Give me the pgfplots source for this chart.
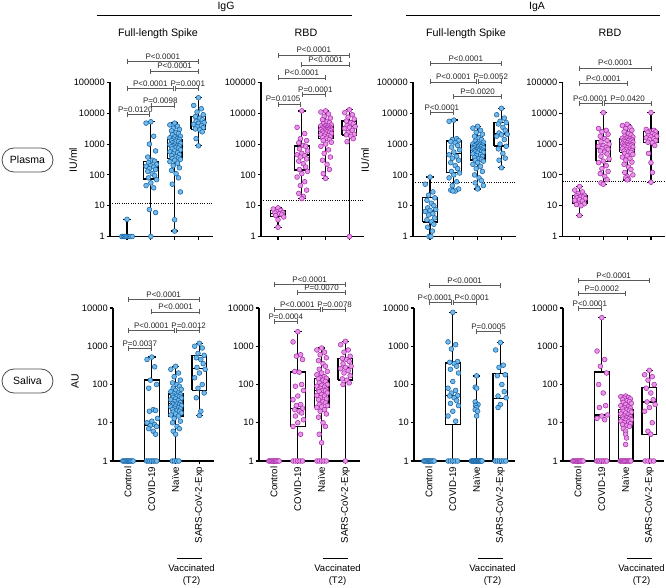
\documentclass[border=0pt]{standalone}
\usepackage{fontspec}
\setmainfont{Liberation Sans}
\usepackage{pgfplots}
\pgfplotsset{compat=1.18}
\definecolor{bfill}{RGB}{116,186,232}
\definecolor{bedge}{RGB}{22,100,168}
\definecolor{mfill}{RGB}{230,150,230}
\definecolor{medge}{RGB}{172,45,172}
\definecolor{brkc}{RGB}{90,90,90}
\pgfplotsset{
 /pgfplots/myaxbase/.style={scale only axis, axis x line*=bottom, axis y line*=left,
   axis line style={line width=1.4pt, black}, xtick={1,2,3,4},
   tick align=outside, major tick length=3.5pt, tick style={line width=1.1pt, black},
   yminorticks=false, clip=false,
   yticklabel style={font=\fontsize{9.3}{10}\selectfont, inner sep=1.5pt}},
 /pgfplots/mytoprow/.style={myaxbase, width=102.5pt, height=154pt, ymin=1, ymax=100000, xmin=0.285, xmax=4.59,
   ytick={1,10,100,1000,10000,100000}, yticklabels={1,10,100,1000,10000,100000}, xticklabels={}},
 /pgfplots/mybotrow/.style={myaxbase, width=101.4pt, height=153pt, ymin=1, ymax=10000, xmin=0.37, xmax=4.63,
   ytick={1,10,100,1000,10000}, yticklabels={1,10,100,1000,10000},
   xticklabels={Control,COVID-19,Naïve,SARS-CoV-2-Exp},
   xticklabel style={rotate=90, anchor=east, font=\fontsize{9.7}{10}\selectfont, inner sep=2pt}},
 /pgfplots/bpt/.style={only marks, mark=*, mark size=2.4pt, mark options={fill=bfill, draw=bedge, line width=0.55pt}},
 /pgfplots/mpt/.style={only marks, mark=*, mark size=2.4pt, mark options={fill=mfill, draw=medge, line width=0.55pt}},
 /pgfplots/bxl/.style={black, line width=1.3pt, mark=none, solid, line join=miter},
 /pgfplots/dotl/.style={black, line width=1pt, dash pattern=on 1pt off 1.3pt, mark=none},
}
\tikzset{brk/.style={brkc, line width=0.8pt},
 plab/.style={anchor=south, inner sep=0.6pt, font=\fontsize{8}{9}\selectfont, text=black!85}}
\newcommand{\sig}[5]{%
  \draw[brk] (axis cs:#1,#3) -- (axis cs:#2,#3);
  \draw[brk] ([yshift=-2.5pt]axis cs:#1,#3) -- ([yshift=2.5pt]axis cs:#1,#3);
  \draw[brk] ([yshift=-2.5pt]axis cs:#2,#3) -- ([yshift=2.5pt]axis cs:#2,#3);
  \node[plab] at ([yshift=1.2pt]axis cs:#4,#3) {#5};}
% box: position, lower whisker, Q1, median, Q3, upper whisker
\newcommand{\bp}[6]{%
 \pgfmathsetmacro\xa{#1-0.31}\pgfmathsetmacro\xb{#1+0.31}%
 \pgfmathsetmacro\ca{#1-0.16}\pgfmathsetmacro\cb{#1+0.16}%
 \edef\tmpcmd{%
  \noexpand\addplot[bxl] coordinates {(\xa,#3)(\xb,#3)(\xb,#5)(\xa,#5)(\xa,#3)};
  \noexpand\addplot[bxl] coordinates {(\xa,#4)(\xb,#4)};
  \noexpand\addplot[bxl] coordinates {(#1,#5)(#1,#6)};
  \noexpand\addplot[bxl] coordinates {(#1,#2)(#1,#3)};
  \noexpand\addplot[bxl] coordinates {(\ca,#6)(\cb,#6)};
  \noexpand\addplot[bxl] coordinates {(\ca,#2)(\cb,#2)};
 }\tmpcmd}
\begin{document}
\begin{tikzpicture}
\path[use as bounding box] (0pt,0pt) rectangle (666pt,587pt);

% ---------------- Top row: Plasma ----------------
\begin{axis}[ymode=log, mytoprow, at={(110pt,350.5pt)}, anchor=south west]
\addplot[dotl] coordinates {(0.285,12) (4.59,12)};
\addplot[bpt] coordinates {(0.78,1)(0.84,1)(0.89,1)(0.95,1)(1.0,1)(1.05,1)(1.11,1)(1.16,1)(1.22,1)(1.0,3.6)};
\addplot[bpt] coordinates {(2.00,5300)(1.80,4800)(2.12,1800)(1.94,1000)(2.20,600)(1.87,380)(2.06,300)(2.16,280)(1.90,250)(2.24,220)
(2.00,200)(1.80,190)(2.12,180)(1.94,160)(2.20,150)(1.87,130)(2.06,110)(2.16,95)(1.90,80)(2.24,70)
(2.00,55)(1.80,45)(2.12,38)(1.94,7.5)(2.20,6)(2.00,1)};
\addplot[bpt] coordinates {(3.00,4800)(2.80,4200)(3.12,3800)(2.94,3300)(3.20,3000)(2.87,2700)(3.06,2400)(3.16,2200)(2.90,2000)(3.24,1800)
(3.00,1700)(2.80,1600)(3.12,1500)(2.94,1450)(3.20,1400)(2.87,1300)(3.06,1250)(3.16,1200)(2.90,1100)(3.24,1050)
(3.00,1000)(2.80,950)(3.12,900)(2.94,880)(3.20,860)(2.87,820)(3.06,780)(3.16,740)(2.90,700)(3.24,650)
(3.00,600)(2.80,560)(3.12,520)(2.94,480)(3.20,450)(2.87,420)(3.06,390)(3.16,360)(2.90,340)(3.24,320)
(3.00,300)(2.80,270)(3.12,240)(2.94,200)(3.20,170)(2.87,140)(3.06,110)(3.16,80)(2.90,50)(3.24,28)
(3.00,3.5)(3.00,1.5)};
\addplot[bpt] coordinates {(4.00,32000)(3.80,18000)(4.12,14000)(3.94,11000)(4.20,9000)(3.87,7800)(4.06,7000)(4.16,6200)(3.90,5500)(4.24,5000)
(4.00,4700)(3.80,4400)(4.12,4000)(3.94,3700)(4.20,3400)(3.87,3100)(4.06,2900)(4.16,2500)(3.90,1500)(4.00,880)};
\bp{1}{1}{1}{1}{1}{3.6}
\bp{2}{1}{73}{176}{270}{5300}
\bp{3}{1.5}{345}{870}{1440}{4800}
\bp{4}{880}{3000}{4700}{7700}{32000}
\sig{1}{4}{4.7e5}{2.5}{P<0.0001}
\sig{2}{4}{2.36e5}{3}{P<0.0001}
\sig{1}{2.96}{6.5e4}{1.98}{P<0.0001}
\sig{3.04}{4}{6.5e4}{3.55}{P=0.0001}
\sig{2.04}{3}{1.73e4}{2.4}{P=0.0098}
\sig{1}{1.92}{9.3e3}{1.35}{P=0.0120}
\end{axis}

\begin{axis}[ymode=log, mytoprow, at={(261pt,350.5pt)}, anchor=south west]
\addplot[dotl] coordinates {(0.285,14.5) (4.59,14.5)};
\addplot[mpt] coordinates {(1.00,8.5)(0.80,7.8)(1.12,7.0)(0.94,6.5)(1.20,6.0)(0.87,5.8)(1.06,5.5)(1.16,5.2)(0.90,4.8)(1.24,4.3)(1.00,3.5)(1.00,2.0)};
\addplot[mpt] coordinates {(2.00,12000)(1.80,3500)(2.12,2200)(1.94,1500)(2.20,1300)(1.87,1100)(2.06,900)(2.16,850)(1.90,700)(2.24,600)
(2.00,500)(1.80,450)(2.12,420)(1.94,380)(2.20,330)(1.87,280)(2.06,230)(2.16,180)(1.90,150)(2.24,130)
(2.00,110)(1.80,85)(2.12,60)(1.94,45)(2.20,32)(1.87,25)(2.06,20)(2.00,17)};
\addplot[mpt] coordinates {(3.00,12000)(2.80,11000)(3.12,9500)(2.94,8000)(3.20,7000)(2.87,6200)(3.06,5500)(3.16,5000)(2.90,4600)(3.24,4200)
(3.00,4000)(2.80,3900)(3.12,3800)(2.94,3600)(3.20,3500)(2.87,3400)(3.06,3300)(3.16,3200)(2.90,3100)(3.24,3000)
(3.00,2950)(2.80,2900)(3.12,2850)(2.94,2800)(3.20,2700)(2.87,2600)(3.06,2500)(3.16,2400)(2.90,2300)(3.24,2200)
(3.00,2100)(2.80,2000)(3.12,1900)(2.94,1800)(3.20,1700)(2.87,1600)(3.06,1550)(3.16,1400)(2.90,1300)(3.24,1150)
(3.00,1000)(2.80,850)(3.12,650)(2.94,500)(3.20,380)(2.87,300)(3.06,220)(3.16,150)(2.90,110)(3.00,77)};
\addplot[mpt] coordinates {(4.00,13000)(3.80,10500)(4.12,9000)(3.94,7500)(4.20,6500)(3.87,5600)(4.06,5000)(4.16,4500)(3.90,4000)(4.24,3700)
(4.00,3500)(3.80,3200)(4.12,2800)(3.94,2400)(4.20,2100)(3.87,2000)(4.06,1800)(4.16,1500)(3.90,1200)(4.00,1)};
\bp{1}{2.0}{4.4}{5.7}{6.9}{8.5}
\bp{2}{17}{144}{445}{870}{12000}
\bp{3}{77}{1550}{2870}{3860}{12000}
\bp{4}{1}{1980}{3650}{5600}{13000}
\sig{1}{4}{7.8e5}{2.5}{P<0.0001}
\sig{2}{4}{3.7e5}{3}{P<0.0001}
\sig{1}{3}{1.4e5}{2}{P<0.0001}
\sig{2.04}{3}{4.1e4}{2.57}{P=0.0001}
\sig{1}{1.96}{2.0e4}{1.21}{P=0.0105}
\end{axis}

\begin{axis}[ymode=log, mytoprow, at={(413pt,350.5pt)}, anchor=south west]
\addplot[dotl] coordinates {(0.285,57) (4.59,57)};
\addplot[bpt] coordinates {(1.00,85)(0.80,50)(1.12,28)(0.94,22)(1.20,18)(0.87,15)(1.06,12)(1.16,10)(0.90,8.5)(1.24,7.5)
(1.00,7)(0.80,6.5)(1.12,5.5)(0.94,5)(1.20,4)(0.87,3.5)(1.06,3)(1.16,2.5)(0.90,2)(1.10,1.5)(0.96,1)(1.04,1)};
\addplot[bpt] coordinates {(2.00,6000)(1.80,5500)(2.12,1500)(1.94,1400)(2.20,1300)(1.87,1200)(2.06,1100)(2.16,900)(1.90,800)(2.24,650)
(2.00,550)(1.80,450)(2.12,400)(1.94,350)(2.20,300)(1.87,250)(2.06,200)(2.16,160)(1.90,130)(2.24,115)
(2.00,100)(1.80,80)(2.12,60)(1.94,45)(2.20,35)(1.87,32)(2.06,30)(1.96,30)};
\addplot[bpt] coordinates {(3.00,3800)(2.80,3300)(3.12,2800)(2.94,2400)(3.20,2100)(2.87,1800)(3.06,1600)(3.16,1400)(2.90,1250)(3.24,1150)
(3.00,1050)(2.80,1000)(3.12,980)(2.94,950)(3.20,920)(2.87,880)(3.06,850)(3.16,820)(2.90,790)(3.24,760)
(3.00,730)(2.80,700)(3.12,680)(2.94,660)(3.20,640)(2.87,620)(3.06,600)(3.16,580)(2.90,560)(3.24,540)
(3.00,510)(2.80,480)(3.12,450)(2.94,420)(3.20,400)(2.87,370)(3.06,340)(3.16,320)(2.90,300)(3.24,280)
(3.00,250)(2.80,220)(3.12,190)(2.94,160)(3.20,130)(2.87,100)(3.06,80)(3.16,65)(2.90,55)(3.24,45)
(3.00,38)(3.00,35)};
\addplot[bpt] coordinates {(4.00,14500)(3.80,9000)(4.12,7000)(3.94,5500)(4.20,5000)(3.87,4500)(4.06,3500)(4.16,2800)(3.90,2300)(4.24,2100)
(4.00,2000)(3.80,1800)(4.12,1400)(3.94,1000)(4.20,850)(3.87,700)(4.06,500)(4.16,350)(3.90,300)(4.00,170)};
\bp{1}{1}{2.96}{6.7}{18.7}{85}
\bp{2}{30}{118}{500}{1260}{6000}
\bp{3}{35}{305}{645}{985}{3800}
\bp{4}{170}{870}{2130}{5100}{14500}
\sig{1}{4}{4.2e5}{2.5}{P<0.0001}
\sig{1}{2.96}{1.04e5}{1.98}{P<0.0001}
\sig{3.04}{4}{1.04e5}{3.55}{P=0.0052}
\sig{2}{4}{3.5e4}{3}{P=0.0020}
\sig{1}{2}{1.04e4}{1.5}{P<0.0001}
\end{axis}

\begin{axis}[ymode=log, mytoprow, at={(562.5pt,350.5pt)}, anchor=south west]
\addplot[dotl] coordinates {(0.285,60) (4.59,60)};
\addplot[mpt] coordinates {(1.00,42)(0.80,32)(1.12,28)(0.94,25)(1.20,22)(0.87,21)(1.06,20)(1.16,19)(0.90,18)(1.24,17)
(1.00,16)(0.80,15)(1.12,14)(0.94,12)(1.20,11.5)(0.87,11)(1.06,10)(1.00,4.8)};
\addplot[mpt] coordinates {(2.00,10500)(1.80,3200)(2.12,2800)(1.94,2500)(2.20,2100)(1.87,1800)(2.06,1500)(2.16,1300)(1.90,1200)(2.24,1000)
(2.00,900)(1.80,850)(2.12,780)(1.94,720)(2.20,680)(1.87,600)(2.06,550)(2.16,480)(1.90,400)(2.24,330)
(2.00,280)(1.80,250)(2.12,200)(1.94,160)(2.20,130)(1.87,110)(2.06,90)(2.16,70)(1.90,55)(2.00,50)};
\addplot[mpt] coordinates {(3.00,4400)(2.80,4000)(3.12,3500)(2.94,3200)(3.20,2800)(2.87,2500)(3.06,2200)(3.16,2000)(2.90,1800)(3.24,1700)
(3.00,1600)(2.80,1550)(3.12,1500)(2.94,1450)(3.20,1400)(2.87,1350)(3.06,1300)(3.16,1250)(2.90,1200)(3.24,1150)
(3.00,1100)(2.80,1050)(3.12,1000)(2.94,980)(3.20,950)(2.87,920)(3.06,900)(3.16,870)(2.90,840)(3.24,800)
(3.00,760)(2.80,720)(3.12,680)(2.94,650)(3.20,620)(2.87,590)(3.06,560)(3.16,540)(2.90,500)(3.24,460)
(3.00,420)(2.80,380)(3.12,340)(2.94,300)(3.20,260)(2.87,220)(3.06,180)(3.16,150)(2.90,120)(3.24,100)
(3.00,90)(2.94,80)(3.06,72)(3.00,69)};
\addplot[mpt] coordinates {(4.00,10500)(3.80,3000)(4.12,2800)(3.94,2600)(4.20,2500)(3.87,2400)(4.06,2200)(4.16,2000)(3.90,1900)(4.24,1800)
(4.00,1700)(3.80,1600)(4.12,1500)(3.94,1400)(4.20,1300)(3.87,1150)(4.06,1100)(4.16,900)(3.90,500)(4.00,250)(4.06,120)(4.00,58)};
\bp{1}{4.8}{11.5}{17.5}{21}{42}
\bp{2}{50}{275}{710}{1320}{10500}
\bp{3}{69}{540}{1000}{1550}{4400}
\bp{4}{58}{1110}{1780}{2570}{10500}
\sig{1}{4}{2.95e5}{2.5}{P<0.0001}
\sig{1}{3}{9.4e4}{2}{P<0.0001}
\sig{1}{1.96}{2.08e4}{1.45}{P<0.0001}
\sig{2.04}{4}{2.08e4}{3.02}{P=0.0420}
\end{axis}

% ---------------- Bottom row: Saliva ----------------
\begin{axis}[ymode=log, mybotrow, at={(113pt,126pt)}, anchor=south west]
\addplot[bpt] coordinates {(0.78,1)(0.83,1)(0.88,1)(0.93,1)(0.98,1)(1.02,1)(1.07,1)(1.12,1)(1.17,1)(1.22,1)};
\addplot[bpt] coordinates {(2.00,520)(1.80,450)(2.12,290)(1.94,130)(2.20,100)(1.87,80)(2.06,22)(2.16,21)(1.90,20)(2.24,13)
(2.00,11)(1.80,10)(2.12,9)(1.94,8.5)(2.20,8)(1.87,7)(2.06,6)(2.16,5)
(1.78,1)(1.85,1)(1.92,1)(2.0,1)(2.07,1)(2.14,1)(2.21,1)};
\addplot[bpt] coordinates {(3.00,300)(2.80,250)(3.12,200)(2.94,160)(3.20,130)(2.87,110)(3.06,100)(3.16,90)(2.90,80)(3.24,75)
(3.00,70)(2.80,65)(3.12,60)(2.94,57)(3.20,55)(2.87,52)(3.06,50)(3.16,48)(2.90,46)(3.24,44)
(3.00,42)(2.80,40)(3.12,38)(2.94,36)(3.20,34)(2.87,32)(3.06,31)(3.16,30)(2.90,29)(3.24,28)
(3.00,27)(2.80,26)(3.12,25)(2.94,24)(3.20,23)(2.87,22)(3.06,21)(3.16,20)(2.90,19)(3.24,18)
(3.00,17)(2.80,16)(3.12,15)(2.94,13)(3.20,11)(2.87,10)(3.06,8)(3.16,7)(2.90,6)(3.00,5)
(2.86,1)(2.95,1)(3.05,1)(3.14,1)};
\addplot[bpt] coordinates {(4.00,1200)(3.80,1000)(4.12,900)(3.94,650)(4.20,580)(3.87,500)(4.06,450)(4.16,350)(3.90,280)(4.24,250)
(4.00,200)(3.80,150)(4.12,100)(3.94,80)(4.20,60)(3.87,45)(4.06,20)(4.00,15.5)};
\bp{1}{1}{1}{1}{1}{1}
\bp{2}{1}{1}{8.4}{130}{520}
\bp{3}{1}{15}{32}{56}{300}
\bp{4}{15.5}{71}{260}{580}{1200}
\sig{1}{4}{1.7e4}{2.5}{P<0.0001}
\sig{2}{4}{7.9e3}{3}{P<0.0001}
\sig{1}{2.96}{2.53e3}{1.98}{P<0.0001}
\sig{3.04}{4}{2.53e3}{3.55}{P=0.0012}
\sig{1}{2}{880}{1.5}{P=0.0037}
\end{axis}

\begin{axis}[ymode=log, mybotrow, at={(259pt,126pt)}, anchor=south west]
\addplot[mpt] coordinates {(0.78,1)(0.83,1)(0.88,1)(0.93,1)(0.98,1)(1.02,1)(1.07,1)(1.12,1)(1.17,1)(1.22,1)};
\addplot[mpt] coordinates {(2.00,2400)(1.80,1300)(2.12,600)(1.94,550)(2.20,450)(1.87,220)(2.06,210)(2.16,100)(1.90,90)(2.24,70)
(2.00,50)(1.80,40)(2.12,30)(1.94,28)(2.20,24)(1.87,22)(2.06,20)(2.16,18)(1.90,15)(2.24,12)
(2.00,10)(1.80,8)(2.12,5)
(1.80,1)(1.90,1)(2.0,1)(2.10,1)(2.20,1)};
\addplot[mpt] coordinates {(3.00,900)(2.80,800)(3.12,700)(2.94,600)(3.20,500)(2.87,420)(3.06,350)(3.16,300)(2.90,250)(3.24,220)
(3.00,200)(2.80,180)(3.12,160)(2.94,150)(3.20,145)(2.87,140)(3.06,130)(3.16,120)(2.90,110)(3.24,100)
(3.00,95)(2.80,90)(3.12,85)(2.94,80)(3.20,75)(2.87,72)(3.06,70)(3.16,68)(2.90,65)(3.24,60)
(3.00,55)(2.80,52)(3.12,50)(2.94,45)(3.20,42)(2.87,40)(3.06,36)(3.16,33)(2.90,30)(3.24,28)
(3.00,26)(2.80,25)(3.12,22)(2.94,20)(3.20,17)(2.87,14)(3.06,10)(3.16,8)(2.90,5)(3.00,3)
(2.80,1)(2.90,1)(3.0,1)(3.10,1)(3.20,1)};
\addplot[mpt] coordinates {(4.00,1350)(3.80,1100)(4.12,800)(3.94,700)(4.20,550)(3.87,480)(4.06,450)(4.16,400)(3.90,350)(4.24,300)
(4.00,280)(3.80,260)(4.12,230)(3.94,200)(4.20,170)(3.87,140)(4.06,130)(4.16,110)(3.90,100)(4.00,1)};
\bp{1}{1}{1}{1}{1}{1}
\bp{2}{1}{7.9}{24}{213}{2400}
\bp{3}{1}{25}{71}{143}{900}
\bp{4}{1}{130}{277}{473}{1350}
\sig{1}{4}{4.1e4}{2.5}{P<0.0001}
\sig{2}{4}{2.6e4}{3}{P=0.0070}
\sig{1}{2.96}{9.1e3}{1.98}{P<0.0001}
\sig{3.04}{4}{9.1e3}{3.55}{P=0.0078}
\sig{1}{2}{4.35e3}{1.5}{P=0.0004}
\end{axis}

\begin{axis}[ymode=log, mybotrow, at={(414pt,126pt)}, anchor=south west]
\addplot[bpt] coordinates {(0.78,1)(0.83,1)(0.88,1)(0.93,1)(0.98,1)(1.02,1)(1.07,1)(1.12,1)(1.17,1)(1.22,1)};
\addplot[bpt] coordinates {(2.00,7700)(1.80,1300)(2.12,1100)(1.94,850)(2.20,400)(1.87,380)(2.06,350)(2.16,300)(1.90,250)(2.24,200)
(2.00,120)(1.80,80)(2.12,70)(1.94,60)(2.20,52)(1.87,50)(2.06,45)(2.16,38)(1.90,32)(2.24,28)
(2.00,20)(1.80,15)(2.12,11)
(1.80,1)(1.90,1)(2.0,1)(2.10,1)(2.20,1)};
\addplot[bpt] coordinates {(3.00,168)(2.94,85)(3.00,80)(2.94,35)(3.06,30)(2.96,28)(3.00,25)(2.94,22)(3.04,20)(3.00,15)
(2.78,1)(2.81,1)(2.84,1)(2.87,1)(2.90,1)(2.93,1)(2.96,1)(2.99,1)(3.02,1)(3.05,1)(3.08,1)(3.11,1)(3.14,1)(3.17,1)(3.20,1)(3.23,1)};
\addplot[bpt] coordinates {(4.00,1250)(3.80,800)(4.12,320)(3.94,280)(4.20,180)(3.87,170)(4.06,100)(4.16,65)(3.90,50)(4.24,45)(4.00,30)(3.90,25)
(3.78,1)(3.87,1)(3.96,1)(4.05,1)(4.14,1)(4.23,1)};
\bp{1}{1}{1}{1}{1}{1}
\bp{2}{1}{9}{52}{365}{7700}
\bp{3}{1}{1}{1}{1}{168}
\bp{4}{1}{1}{43}{193}{1250}
\sig{1}{4}{3.8e4}{2.5}{P<0.0001}
\sig{1}{1.96}{1.36e4}{1.25}{P<0.0001}
\sig{2.04}{3}{1.36e4}{2.8}{P<0.0001}
\sig{3}{4}{2.38e3}{3.5}{P=0.0005}
\end{axis}

\begin{axis}[ymode=log, mybotrow, at={(563pt,126pt)}, anchor=south west]
\addplot[mpt] coordinates {(0.78,1)(0.83,1)(0.88,1)(0.93,1)(0.98,1)(1.02,1)(1.07,1)(1.12,1)(1.17,1)(1.22,1)};
\addplot[mpt] coordinates {(2.00,5600)(1.80,750)(2.12,450)(1.94,300)(2.20,200)(1.87,100)(2.06,60)(2.16,28)(1.90,25)(2.24,16)(2.00,15)(1.80,13)(2.12,12)
(1.78,1)(1.85,1)(1.92,1)(2.0,1)(2.07,1)(2.14,1)(2.21,1)};
\addplot[mpt] coordinates {(3.00,50)(2.80,48)(3.12,46)(2.94,44)(3.20,42)(2.87,40)(3.06,38)(3.16,36)(2.90,34)(3.24,32)
(3.00,30)(2.80,28)(3.12,26)(2.94,25)(3.20,24)(2.87,23)(3.06,22)(3.16,21)(2.90,20)(3.24,19)
(3.00,18)(2.80,17)(3.12,16)(2.94,15)(3.20,14.5)(2.87,14)(3.06,13.5)(3.16,13)(2.90,12.5)(3.24,12)
(3.00,11.5)(2.80,11)(3.12,10.5)(2.94,10)(3.20,9.5)(2.87,9)(3.06,8.5)(3.16,8)(2.90,7)(3.00,6)
(3.00,5)(3.04,4)(3.00,2.7)
(2.77,1)(2.82,1)(2.87,1)(2.92,1)(2.97,1)(3.02,1)(3.07,1)(3.12,1)(3.17,1)(3.22,1)};
\addplot[mpt] coordinates {(4.00,235)(3.80,180)(4.12,160)(3.94,130)(4.20,100)(3.87,80)(4.06,60)(4.16,40)(3.90,35)(4.24,30)(4.00,25)(3.80,20)(4.12,10)(3.94,6)(4.06,5)
(3.82,1)(3.94,1)(4.06,1)(4.18,1)};
\bp{1}{1}{1}{1}{1}{1}
\bp{2}{1}{1}{16}{214}{5600}
\bp{3}{1}{1}{14}{22.5}{50}
\bp{4}{1}{4.9}{35}{84}{235}
\sig{1}{4}{5.3e4}{2.5}{P<0.0001}
\sig{1}{3}{2.4e4}{2}{P=0.0002}
\sig{1}{2}{9.7e3}{1.5}{P<0.0001}
\end{axis}

% ---------------- Annotations ----------------
\node[font=\fontsize{10.5}{12}\selectfont] at (226pt,580pt) {IgG};
\draw[line width=1.2pt] (97pt,571.3pt) -- (352pt,571.3pt);
\node[font=\fontsize{10.5}{12}\selectfont] at (537pt,580pt) {IgA};
\draw[line width=1.2pt] (406pt,571.3pt) -- (660pt,571.3pt);
\foreach \xx/\tt in {158/Full-length Spike, 306/RBD, 466/Full-length Spike, 610/RBD}
  \node[font=\fontsize{10.7}{12}\selectfont] at (\xx pt,553.7pt) {\tt};
\node[rotate=90, font=\fontsize{10.5}{12}\selectfont] at (73pt,427pt) {IU/ml};
\node[rotate=90, font=\fontsize{10.5}{12}\selectfont] at (365pt,427pt) {IU/ml};
\node[rotate=90, font=\fontsize{10.5}{12}\selectfont] at (75pt,206pt) {AU};
\node[draw=black!70, line width=0.8pt, rounded corners=12pt, minimum width=51pt, minimum height=24pt, font=\fontsize{10.5}{12}\selectfont] at (27.5pt,427pt) {Plasma};
\node[draw=black!70, line width=0.8pt, rounded corners=12pt, minimum width=51pt, minimum height=24pt, font=\fontsize{10.5}{12}\selectfont] at (27.5pt,206pt) {Saliva};
\foreach \na/\sa in {175.6/199.4, 321.6/345.4, 476.6/500.4, 625.6/649.4}{
  \draw[line width=0.7pt] ({(\na+1)*1pt},28.7pt) -- ({(\sa+3)*1pt},28.7pt);
  \node[font=\fontsize{9.5}{11}\selectfont] at ({((\na+\sa)/2+4)*1pt},19pt) {Vaccinated};
  \node[font=\fontsize{9.5}{11}\selectfont] at ({((\na+\sa)/2+4)*1pt},5.5pt) {(T2)};
}
\end{tikzpicture}
\end{document}
